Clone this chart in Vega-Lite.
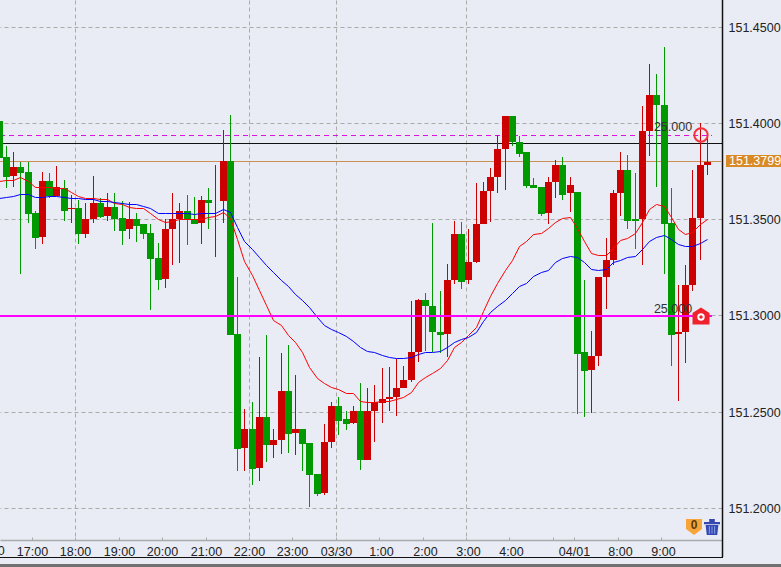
{"$schema":"https://vega.github.io/schema/vega-lite/v6.json","width":722,"height":540,"autosize":{"type":"none"},"padding":{"left":0,"top":0,"right":59,"bottom":27},"background":"#e9ecf4","view":{"stroke":null},
"datasets":{"candles":[
{"t":-1,"o":151.4007,"h":151.4007,"l":151.3816,"c":151.3816,"f":151.3700,"s":151.3612},
{"t":0,"o":151.3820,"h":151.3882,"l":151.3659,"c":151.3721,"f":151.3705,"s":151.3617},
{"t":1,"o":151.3726,"h":151.3846,"l":151.3669,"c":151.3768,"f":151.3705,"s":151.3622},
{"t":2,"o":151.3768,"h":151.3799,"l":151.3217,"c":151.3737,"f":151.3716,"s":151.3628},
{"t":3,"o":151.3742,"h":151.3794,"l":151.3482,"c":151.3524,"f":151.3700,"s":151.3628},
{"t":4,"o":151.3529,"h":151.3544,"l":151.3342,"c":151.3404,"f":151.3669,"s":151.3617},
{"t":5,"o":151.3409,"h":151.3747,"l":151.3368,"c":151.3700,"f":151.3669,"s":151.3617},
{"t":6,"o":151.3700,"h":151.3737,"l":151.3612,"c":151.3622,"f":151.3669,"s":151.3622},
{"t":7,"o":151.3622,"h":151.3778,"l":151.3622,"c":151.3667,"f":151.3664,"s":151.3622},
{"t":8,"o":151.3664,"h":151.3705,"l":151.3492,"c":151.3544,"f":151.3659,"s":151.3617},
{"t":9,"o":151.3550,"h":151.3627,"l":151.3482,"c":151.3555,"f":151.3643,"s":151.3612},
{"t":10,"o":151.3555,"h":151.3601,"l":151.3368,"c":151.3420,"f":151.3622,"s":151.3607},
{"t":11,"o":151.3425,"h":151.3581,"l":151.3404,"c":151.3498,"f":151.3612,"s":151.3602},
{"t":12,"o":151.3498,"h":151.3726,"l":151.3482,"c":151.3581,"f":151.3607,"s":151.3602},
{"t":13,"o":151.3581,"h":151.3612,"l":151.3508,"c":151.3513,"f":151.3602,"s":151.3596},
{"t":14,"o":151.3518,"h":151.3638,"l":151.3492,"c":151.3565,"f":151.3602,"s":151.3596},
{"t":15,"o":151.3565,"h":151.3633,"l":151.3440,"c":151.3503,"f":151.3586,"s":151.3591},
{"t":16,"o":151.3508,"h":151.3596,"l":151.3363,"c":151.3440,"f":151.3576,"s":151.3581},
{"t":17,"o":151.3446,"h":151.3591,"l":151.3394,"c":151.3503,"f":151.3565,"s":151.3576},
{"t":18,"o":151.3503,"h":151.3534,"l":151.3383,"c":151.3466,"f":151.3560,"s":151.3576},
{"t":19,"o":151.3472,"h":151.3472,"l":151.3394,"c":151.3425,"f":151.3555,"s":151.3570},
{"t":20,"o":151.3430,"h":151.3472,"l":151.3030,"c":151.3295,"f":151.3529,"s":151.3555},
{"t":21,"o":151.3300,"h":151.3378,"l":151.3134,"c":151.3186,"f":151.3498,"s":151.3534},
{"t":22,"o":151.3191,"h":151.3503,"l":151.3144,"c":151.3451,"f":151.3487,"s":151.3534},
{"t":23,"o":151.3451,"h":151.3633,"l":151.3264,"c":151.3503,"f":151.3492,"s":151.3534},
{"t":24,"o":151.3503,"h":151.3581,"l":151.3274,"c":151.3544,"f":151.3498,"s":151.3534},
{"t":25,"o":151.3544,"h":151.3627,"l":151.3363,"c":151.3498,"f":151.3498,"s":151.3534},
{"t":26,"o":151.3498,"h":151.3617,"l":151.3477,"c":151.3477,"f":151.3503,"s":151.3524},
{"t":27,"o":151.3482,"h":151.3622,"l":151.3373,"c":151.3601,"f":151.3503,"s":151.3529},
{"t":28,"o":151.3601,"h":151.3664,"l":151.3446,"c":151.3586,"f":151.3513,"s":151.3534},
{"t":29,"o":151.3593,"h":151.3783,"l":151.3305,"c":151.3596,"f":151.3518,"s":151.3534},
{"t":30,"o":151.3596,"h":151.3965,"l":151.3482,"c":151.3804,"f":151.3539,"s":151.3550},
{"t":31,"o":151.3804,"h":151.4043,"l":151.2900,"c":151.2900,"f":151.3508,"s":151.3539},
{"t":32,"o":151.2905,"h":151.3201,"l":151.2189,"c":151.2308,"f":151.3394,"s":151.3461},
{"t":33,"o":151.2313,"h":151.2511,"l":151.2189,"c":151.2407,"f":151.3280,"s":151.3384},
{"t":34,"o":151.2407,"h":151.2552,"l":151.2121,"c":151.2204,"f":151.3212,"s":151.3342},
{"t":35,"o":151.2209,"h":151.2781,"l":151.2142,"c":151.2474,"f":151.3134,"s":151.3301},
{"t":36,"o":151.2474,"h":151.2900,"l":151.2240,"c":151.2324,"f":151.3056,"s":151.3259},
{"t":37,"o":151.2329,"h":151.2412,"l":151.2261,"c":151.2355,"f":151.2978,"s":151.3223},
{"t":38,"o":151.2355,"h":151.2802,"l":151.2282,"c":151.2609,"f":151.2952,"s":151.3186},
{"t":39,"o":151.2609,"h":151.2848,"l":151.2287,"c":151.2386,"f":151.2900,"s":151.3150},
{"t":40,"o":151.2391,"h":151.2692,"l":151.2272,"c":151.2407,"f":151.2859,"s":151.3113},
{"t":41,"o":151.2407,"h":151.2412,"l":151.2194,"c":151.2334,"f":151.2807,"s":151.3082},
{"t":42,"o":151.2339,"h":151.2339,"l":151.2007,"c":151.2173,"f":151.2734,"s":151.3041},
{"t":43,"o":151.2178,"h":151.2178,"l":151.2059,"c":151.2074,"f":151.2677,"s":151.2989},
{"t":44,"o":151.2079,"h":151.2433,"l":151.2069,"c":151.2344,"f":151.2651,"s":151.2952},
{"t":45,"o":151.2344,"h":151.2552,"l":151.2313,"c":151.2531,"f":151.2630,"s":151.2931},
{"t":46,"o":151.2531,"h":151.2578,"l":151.2376,"c":151.2453,"f":151.2615,"s":151.2911},
{"t":47,"o":151.2459,"h":151.2505,"l":151.2402,"c":151.2438,"f":151.2599,"s":151.2895},
{"t":48,"o":151.2443,"h":151.2531,"l":151.2438,"c":151.2505,"f":151.2594,"s":151.2869},
{"t":49,"o":151.2505,"h":151.2646,"l":151.2199,"c":151.2246,"f":151.2557,"s":151.2838},
{"t":50,"o":151.2251,"h":151.2625,"l":151.2246,"c":151.2505,"f":151.2552,"s":151.2817},
{"t":51,"o":151.2505,"h":151.2640,"l":151.2344,"c":151.2552,"f":151.2552,"s":151.2812},
{"t":52,"o":151.2547,"h":151.2729,"l":151.2443,"c":151.2568,"f":151.2557,"s":151.2796},
{"t":53,"o":151.2568,"h":151.2734,"l":151.2505,"c":151.2578,"f":151.2557,"s":151.2786},
{"t":54,"o":151.2578,"h":151.2775,"l":151.2479,"c":151.2620,"f":151.2563,"s":151.2776},
{"t":55,"o":151.2620,"h":151.2739,"l":151.2620,"c":151.2666,"f":151.2578,"s":151.2776},
{"t":56,"o":151.2666,"h":151.3077,"l":151.2656,"c":151.2812,"f":151.2604,"s":151.2781},
{"t":57,"o":151.2812,"h":151.3087,"l":151.2760,"c":151.3082,"f":151.2656,"s":151.2801},
{"t":58,"o":151.3082,"h":151.3118,"l":151.2817,"c":151.3046,"f":151.2682,"s":151.2807},
{"t":59,"o":151.3051,"h":151.3482,"l":151.2812,"c":151.2911,"f":151.2703,"s":151.2812},
{"t":60,"o":151.2916,"h":151.3129,"l":151.2802,"c":151.2900,"f":151.2724,"s":151.2817},
{"t":61,"o":151.2905,"h":151.3269,"l":151.2781,"c":151.3181,"f":151.2770,"s":151.2833},
{"t":62,"o":151.3181,"h":151.3492,"l":151.3165,"c":151.3420,"f":151.2833,"s":151.2864},
{"t":63,"o":151.3420,"h":151.3487,"l":151.3139,"c":151.3175,"f":151.2859,"s":151.2879},
{"t":64,"o":151.3181,"h":151.3446,"l":151.3165,"c":151.3279,"f":151.2900,"s":151.2890},
{"t":65,"o":151.3279,"h":151.3690,"l":151.3274,"c":151.3477,"f":151.2937,"s":151.2916},
{"t":66,"o":151.3477,"h":151.3695,"l":151.3472,"c":151.3648,"f":151.3020,"s":151.2968},
{"t":67,"o":151.3648,"h":151.3763,"l":151.3487,"c":151.3716,"f":151.3098,"s":151.3015},
{"t":68,"o":151.3716,"h":151.3939,"l":151.3638,"c":151.3866,"f":151.3170,"s":151.3046},
{"t":69,"o":151.3866,"h":151.4033,"l":151.3653,"c":151.4033,"f":151.3238,"s":151.3082},
{"t":70,"o":151.4033,"h":151.4033,"l":151.3882,"c":151.3898,"f":151.3290,"s":151.3118},
{"t":71,"o":151.3898,"h":151.3929,"l":151.3820,"c":151.3840,"f":151.3358,"s":151.3150},
{"t":72,"o":151.3846,"h":151.3846,"l":151.3659,"c":151.3674,"f":151.3384,"s":151.3170},
{"t":73,"o":151.3679,"h":151.3711,"l":151.3664,"c":151.3664,"f":151.3420,"s":151.3202},
{"t":74,"o":151.3669,"h":151.3669,"l":151.3518,"c":151.3524,"f":151.3430,"s":151.3223},
{"t":75,"o":151.3529,"h":151.3716,"l":151.3477,"c":151.3695,"f":151.3456,"s":151.3238},
{"t":76,"o":151.3695,"h":151.3809,"l":151.3607,"c":151.3783,"f":151.3487,"s":151.3275},
{"t":77,"o":151.3783,"h":151.3820,"l":151.3601,"c":151.3627,"f":151.3508,"s":151.3296},
{"t":78,"o":151.3633,"h":151.3716,"l":151.3539,"c":151.3679,"f":151.3513,"s":151.3306},
{"t":79,"o":151.3643,"h":151.3643,"l":151.2490,"c":151.2801,"f":151.3456,"s":151.3301},
{"t":80,"o":151.2807,"h":151.3181,"l":151.2474,"c":151.2713,"f":151.3384,"s":151.3275},
{"t":81,"o":151.2718,"h":151.2921,"l":151.2495,"c":151.2791,"f":151.3326,"s":151.3243},
{"t":82,"o":151.2791,"h":151.3201,"l":151.2739,"c":151.3201,"f":151.3316,"s":151.3233},
{"t":83,"o":151.3201,"h":151.3404,"l":151.3035,"c":151.3290,"f":151.3311,"s":151.3243},
{"t":84,"o":151.3290,"h":151.3653,"l":151.3264,"c":151.3633,"f":151.3352,"s":151.3275},
{"t":85,"o":151.3633,"h":151.3846,"l":151.3518,"c":151.3757,"f":151.3389,"s":151.3290},
{"t":86,"o":151.3757,"h":151.3835,"l":151.3451,"c":151.3492,"f":151.3404,"s":151.3301},
{"t":87,"o":151.3498,"h":151.3737,"l":151.3347,"c":151.3492,"f":151.3430,"s":151.3306},
{"t":88,"o":151.3498,"h":151.4085,"l":151.3264,"c":151.3955,"f":151.3487,"s":151.3342},
{"t":89,"o":151.3955,"h":151.4303,"l":151.3830,"c":151.4147,"f":151.3550,"s":151.3384},
{"t":90,"o":151.4147,"h":151.4256,"l":151.3669,"c":151.4090,"f":151.3576,"s":151.3409},
{"t":91,"o":151.4095,"h":151.4396,"l":151.3217,"c":151.3477,"f":151.3570,"s":151.3415},
{"t":92,"o":151.3482,"h":151.3664,"l":151.2739,"c":151.2900,"f":151.3513,"s":151.3394},
{"t":93,"o":151.2905,"h":151.3155,"l":151.2557,"c":151.2911,"f":151.3446,"s":151.3373},
{"t":94,"o":151.2911,"h":151.3259,"l":151.2750,"c":151.3160,"f":151.3420,"s":151.3358},
{"t":95,"o":151.3160,"h":151.3757,"l":151.3129,"c":151.3508,"f":151.3435,"s":151.3358},
{"t":96,"o":151.3508,"h":151.4001,"l":151.3285,"c":151.3783,"f":151.3472,"s":151.3378},
{"t":97,"o":151.3783,"h":151.3939,"l":151.3731,"c":151.3799,"f":151.3498,"s":151.3399}
],
"marks":[
{"kind":"close","t0":-0.8164,"t1":99.0,"p":151.3802},
{"kind":"black","t0":-0.8164,"t1":99.09,"p":151.3895},
{"kind":"dash","t0":-0.8164,"t1":97.7,"p":151.3937},
{"kind":"solid","t0":-0.8164,"t1":97.7,"p":151.2997},
{"kind":"frameB","t0":-0.8164,"t1":99.2,"p":151.1745},
{"kind":"frameR","t0":99.09,"p":151.4638,"p1":151.1745},
{"kind":"strip","t0":-0.8164,"t1":107.25,"p":151.1698},
{"kind":"ring","t0":96.14,"p":151.3939},
{"kind":"house","t0":96.25,"p":151.2997},
{"kind":"shield","t0":95.2,"p":151.1903},
{"kind":"trash","t0":97.7,"p":151.1903},
{"kind":"amount","t0":92.3,"p":151.3976,"label":"25.000"},
{"kind":"amount","t0":92.3,"p":151.3035,"label":"25.000"},
{"kind":"tick","t0":-2.35,"p":151.1776,"label":"16:00"},
{"kind":"tag","t0":99.64,"t1":107.25,"p":151.3833,"p1":151.3771,"pm":151.3802,"label":"151.3799"}
]},
"layer":[
{"data":{"name":"marks"},"transform":[{"filter":"datum.kind=='close'"}],"mark":{"type":"rule","stroke":"#c98f55","strokeWidth":1,"yOffset":0.5},
"encoding":{"x":{"field":"t0","type":"quantitative","scale":{"domain":[-0.8164,99.09],"nice":false,"zero":false,"padding":0,"round":true},
"axis":{"title":null,"orient":"bottom","values":[3.65,9.5,15.65,21.65,27.65,33.65,39.65,45.7,51.65,57.65,63.65,69.65,75.65,78.65,84.65,90.65],
"labelExpr":"{'3.65':'17:00','9.5':'18:00','15.65':'19:00','21.65':'20:00','27.65':'21:00','33.65':'22:00','39.65':'23:00','45.7':'03/30','51.65':'1:00','57.65':'2:00','63.65':'3:00','69.65':'4:00','75.65':'','78.65':'04/01','84.65':'8:00','90.65':'9:00'}[''+datum.value]",
"labelFont":"Liberation Sans","labelFontSize":12.5,"labelColor":"#222222","labelOverlap":false,"labelFlush":false,"labelBound":false,"labelPadding":14,"labelBaseline":"middle",
"labelOffset":{"condition":{"test":"indexof([51.65,57.65,63.65,69.65,84.65,90.65],datum.value)>=0","value":2},"value":0},
"domain":true,"domainColor":"#aaaaaa","domainWidth":1.5,"tickColor":"#aaaaaa","tickSize":-3,"tickWidth":1,
"grid":true,"gridColor":"#aaaaaa","gridDash":[4,3],"gridWidth":1,
"gridOpacity":{"condition":{"test":"indexof([9.5,33.65,45.7,63.65],datum.value)>=0","value":1},"value":0}}},
"x2":{"field":"t1"},
"y":{"field":"p","type":"quantitative","scale":{"domain":[151.1833,151.4638],"nice":false,"zero":false,"round":true},
"axis":{"title":null,"orient":"right","values":[151.2,151.25,151.3,151.35,151.4,151.45],"format":".4f","labelFont":"Liberation Sans","labelFontSize":12.5,"labelColor":"#222222","labelPadding":6,"domain":false,"ticks":false,"grid":true,"gridColor":"#aaaaaa","gridDash":[4,3],"gridWidth":1}}}},
{"data":{"name":"marks"},"transform":[{"filter":"datum.kind=='black'||datum.kind=='frameB'"}],"mark":{"type":"rule","stroke":"#111111","strokeWidth":1,"yOffset":0.5},"encoding":{"x":{"field":"t0","type":"quantitative"},"x2":{"field":"t1"},"y":{"field":"p","type":"quantitative"}}},
{"data":{"name":"marks"},"transform":[{"filter":"datum.kind=='frameR'"}],"mark":{"type":"rule","stroke":"#111111","strokeWidth":1.5,"xOffset":0.5},"encoding":{"x":{"field":"t0","type":"quantitative"},"y":{"field":"p","type":"quantitative"},"y2":{"field":"p1"}}},
{"data":{"name":"marks"},"transform":[{"filter":"datum.kind=='strip'"}],"mark":{"type":"rule","stroke":"#707070","strokeWidth":4},"encoding":{"x":{"field":"t0","type":"quantitative"},"x2":{"field":"t1"},"y":{"field":"p","type":"quantitative"}}},
{"data":{"name":"marks"},"transform":[{"filter":"datum.kind=='dash'"}],"mark":{"type":"rule","stroke":"#e010e0","strokeWidth":1,"strokeDash":[5,4],"yOffset":0.5},"encoding":{"x":{"field":"t0","type":"quantitative"},"x2":{"field":"t1"},"y":{"field":"p","type":"quantitative"}}},
{"data":{"name":"candles"},"mark":{"type":"rule","strokeWidth":1,"xOffset":0.5},"encoding":{"x":{"field":"t","type":"quantitative"},"y":{"field":"l","type":"quantitative"},"y2":{"field":"h"},"color":{"condition":{"test":"datum.c>=datum.o","value":"#cc0000"},"value":"#009900"}}},
{"data":{"name":"candles"},"mark":{"type":"bar","size":7,"xOffset":0.5},"encoding":{"x":{"field":"t","type":"quantitative"},"y":{"field":"o","type":"quantitative"},"y2":{"field":"c"},"color":{"condition":{"test":"datum.c>=datum.o","value":"#cc0000"},"value":"#009900"}}},
{"data":{"name":"candles"},"mark":{"type":"line","stroke":"#ff0000","strokeWidth":1,"interpolate":"linear","xOffset":0.5,"yOffset":0.5},"encoding":{"x":{"field":"t","type":"quantitative"},"y":{"field":"f","type":"quantitative"}}},
{"data":{"name":"candles"},"mark":{"type":"line","stroke":"#0000ff","strokeWidth":1,"interpolate":"linear","xOffset":0.5,"yOffset":0.5},"encoding":{"x":{"field":"t","type":"quantitative"},"y":{"field":"s","type":"quantitative"}}},
{"data":{"name":"marks"},"transform":[{"filter":"datum.kind=='solid'"}],"mark":{"type":"rule","stroke":"#ff00ff","strokeWidth":2},"encoding":{"x":{"field":"t0","type":"quantitative"},"x2":{"field":"t1"},"y":{"field":"p","type":"quantitative"}}},
{"data":{"name":"marks"},"transform":[{"filter":"datum.kind=='amount'"}],"mark":{"type":"text","font":"Liberation Sans","fontSize":12.5,"fill":"#333333","align":"center","baseline":"middle"},"encoding":{"x":{"field":"t0","type":"quantitative"},"y":{"field":"p","type":"quantitative"},"text":{"field":"label"}}},
{"data":{"name":"marks"},"transform":[{"filter":"datum.kind=='tick'"}],"mark":{"type":"text","font":"Liberation Sans","fontSize":12.5,"fill":"#222222","align":"center","baseline":"middle"},"encoding":{"x":{"field":"t0","type":"quantitative"},"y":{"field":"p","type":"quantitative"},"text":{"field":"label"}}},
{"data":{"name":"marks"},"transform":[{"filter":"datum.kind=='ring'"}],"mark":{"type":"point","shape":"circle","filled":false,"stroke":"#f5323c","strokeWidth":2,"size":180,"opacity":1},"encoding":{"x":{"field":"t0","type":"quantitative"},"y":{"field":"p","type":"quantitative"}}},
{"data":{"name":"marks"},"transform":[{"filter":"datum.kind=='house'"}],"mark":{"type":"point","shape":"M0,-1 L1,-0.35 L1,1 L-1,1 L-1,-0.35 Z","filled":true,"fill":"#f0202c","size":289,"opacity":1},"encoding":{"x":{"field":"t0","type":"quantitative"},"y":{"field":"p","type":"quantitative"}}},
{"data":{"name":"marks"},"transform":[{"filter":"datum.kind=='house'"}],"mark":{"type":"point","shape":"circle","filled":true,"fill":"#ffffff","size":55,"opacity":1,"yOffset":1},"encoding":{"x":{"field":"t0","type":"quantitative"},"y":{"field":"p","type":"quantitative"}}},
{"data":{"name":"marks"},"transform":[{"filter":"datum.kind=='house'"}],"mark":{"type":"point","shape":"circle","filled":true,"fill":"#f0202c","size":12,"opacity":1,"yOffset":1},"encoding":{"x":{"field":"t0","type":"quantitative"},"y":{"field":"p","type":"quantitative"}}},
{"data":{"name":"marks"},"transform":[{"filter":"datum.kind=='shield'"}],"mark":{"type":"point","shape":"M-1,-1 L1,-1 L1,0.25 L0,1 L-1,0.25 Z","filled":true,"fill":"#f7a53a","size":256,"opacity":1},"encoding":{"x":{"field":"t0","type":"quantitative"},"y":{"field":"p","type":"quantitative"}}},
{"data":{"name":"marks"},"transform":[{"filter":"datum.kind=='shield'"}],"mark":{"type":"text","font":"Liberation Sans","fontSize":12,"fontWeight":"bold","fill":"#5a3a08","align":"center","baseline":"middle","text":"0","dy":-2},"encoding":{"x":{"field":"t0","type":"quantitative"},"y":{"field":"p","type":"quantitative"}}},
{"data":{"name":"marks"},"transform":[{"filter":"datum.kind=='trash'"}],"mark":{"type":"point","shape":"M-1,-0.62 L1,-0.62 L1,-0.35 L-1,-0.35 Z M-0.35,-0.62 L-0.35,-1 L0.35,-1 L0.35,-0.62 Z M-0.8,-0.25 L0.8,-0.25 L0.65,1 L-0.65,1 Z","filled":true,"fill":"#3448b0","size":256,"opacity":1},"encoding":{"x":{"field":"t0","type":"quantitative"},"y":{"field":"p","type":"quantitative"}}},
{"data":{"name":"marks"},"transform":[{"filter":"datum.kind=='trash'"}],"mark":{"type":"point","shape":"M-0.4,-0.1 L-0.25,-0.1 L-0.25,0.85 L-0.4,0.85 Z M-0.07,-0.1 L0.07,-0.1 L0.07,0.85 L-0.07,0.85 Z M0.25,-0.1 L0.4,-0.1 L0.4,0.85 L0.25,0.85 Z","filled":true,"fill":"#7f93e0","size":256,"opacity":1},"encoding":{"x":{"field":"t0","type":"quantitative"},"y":{"field":"p","type":"quantitative"}}},
{"data":{"name":"marks"},"transform":[{"filter":"datum.kind=='tag'"}],"mark":{"type":"rect","fill":"#d98a24"},"encoding":{"x":{"field":"t0","type":"quantitative"},"x2":{"field":"t1"},"y":{"field":"p","type":"quantitative"},"y2":{"field":"p1"}}},
{"data":{"name":"marks"},"transform":[{"filter":"datum.kind=='tag'"}],"mark":{"type":"text","font":"Liberation Sans","fontSize":12.5,"fill":"#ffffff","align":"left","baseline":"middle","dx":3},"encoding":{"x":{"field":"t0","type":"quantitative"},"y":{"field":"pm","type":"quantitative"},"text":{"field":"label"}}}
],
"config":{"style":{"cell":{"stroke":null}}}}
